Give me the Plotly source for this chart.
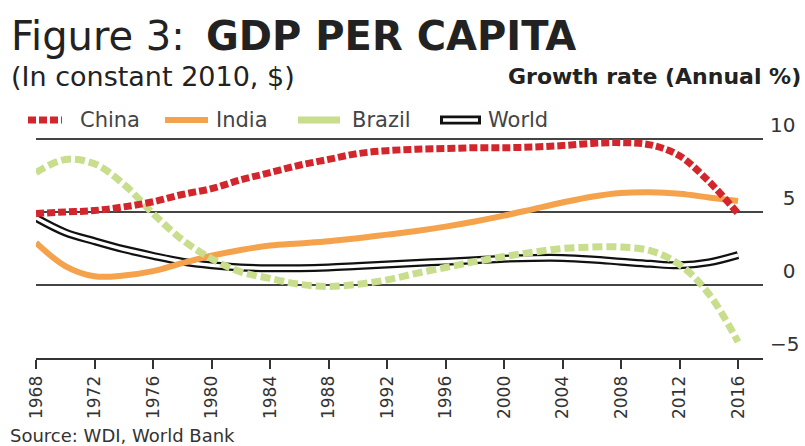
import plotly.graph_objects as go

# ---------------- data ----------------
years = list(range(1968, 2017, 2))
china = [4.9, 5.0, 5.1, 5.35, 5.7, 6.2, 6.6, 7.2, 7.7, 8.2, 8.6, 9.0, 9.2,
         9.3, 9.35, 9.4, 9.4, 9.45, 9.55, 9.7, 9.75, 9.6, 8.85, 7.1, 4.9]
india = [2.9, 1.3, 0.6, 0.65, 0.95, 1.5, 2.0, 2.4, 2.7, 2.85, 3.0, 3.2, 3.45,
         3.7, 4.0, 4.35, 4.75, 5.2, 5.65, 6.05, 6.3, 6.35, 6.25, 6.0, 5.75]
brazil = [7.7, 8.6, 8.3, 6.9, 4.9, 3.1, 1.8, 0.9, 0.45, 0.05, -0.1, 0.05, 0.35,
          0.8, 1.2, 1.6, 1.95, 2.25, 2.5, 2.6, 2.6, 2.35, 1.4, -0.6, -3.9]
world = [4.6, 3.6, 3.0, 2.45, 2.0, 1.6, 1.35, 1.2, 1.15, 1.15, 1.2, 1.3, 1.4,
         1.5, 1.6, 1.7, 1.8, 1.85, 1.85, 1.75, 1.6, 1.45, 1.35, 1.55, 2.05]
x_ticks = list(range(1968, 2017, 4))
y_ticks = [-5, 0, 5, 10]
y_ticktext = ["\u22125", "\u20070", "\u20075", "10"]
legend_names = ["China", "India", "Brazil", "World"]

# ---------------- styles ----------------
RED = "#d3262c"
ORANGE = "#f4a24c"
GREEN = "#c8de8c"
TEXT = "#222222"
GRID = "#444444"
FONT = "DejaVu Sans"

W, H = 805, 446
L, R, T, B = 36, 42, 135, 88
PW, PH = W - L - R, H - T - B
Y_UNIT = 14.6          # px per percentage point
Y_TOP = -5 + PH / Y_UNIT


def px(x):
    return (x - L) / PW


def py(y):
    return (H - B - y) / PH


fig = go.Figure()

# World: black outline with white centre
fig.add_trace(go.Scatter(x=years, y=world, mode="lines", name="World",
                         line=dict(color="#111111", width=8, shape="spline", smoothing=1),
                         showlegend=False, cliponaxis=False, hoverinfo="skip"))
fig.add_trace(go.Scatter(x=years, y=world, mode="lines", name="World",
                         line=dict(color="white", width=3.5, shape="spline", smoothing=1),
                         showlegend=False, cliponaxis=False))
fig.add_trace(go.Scatter(x=years, y=india, mode="lines", name="India",
                         line=dict(color=ORANGE, width=6, shape="spline", smoothing=1),
                         showlegend=False, cliponaxis=False))
fig.add_trace(go.Scatter(x=years, y=brazil, mode="lines", name="Brazil",
                         line=dict(color=GREEN, width=7, shape="spline", smoothing=1,
                                   dash="10px,4px"),
                         showlegend=False, cliponaxis=False))
fig.add_trace(go.Scatter(x=years, y=china, mode="lines", name="China",
                         line=dict(color=RED, width=7, shape="spline", smoothing=1,
                                   dash="8px,3px"),
                         showlegend=False, cliponaxis=False))

# ---------------- custom legend ----------------
shapes = []
annotations = []
leg_y = 120
icons = [
    (28, 62, RED, 7, "8px,3px"),
    (165, 208, ORANGE, 6, "solid"),
    (298, 340, GREEN, 7, "solid"),
]
text_x = [78, 214, 350, 486]
for (x0, x1, col, w, dash) in icons:
    shapes.append(dict(type="line", xref="paper", yref="paper",
                       x0=px(x0), x1=px(x1), y0=py(leg_y), y1=py(leg_y),
                       line=dict(color=col, width=w, dash=dash)))
# World icon (outlined)
shapes.append(dict(type="line", xref="paper", yref="paper",
                   x0=px(440), x1=px(481), y0=py(leg_y), y1=py(leg_y),
                   line=dict(color="#111111", width=9)))
shapes.append(dict(type="line", xref="paper", yref="paper",
                   x0=px(443), x1=px(478), y0=py(leg_y), y1=py(leg_y),
                   line=dict(color="white", width=3.5)))
for name, tx in zip(legend_names, text_x):
    annotations.append(dict(text=name, xref="paper", yref="paper",
                            x=px(tx), y=py(leg_y), xanchor="left", yanchor="middle",
                            showarrow=False,
                            font=dict(family=FONT, size=21, color="#444444")))

# ---------------- titles ----------------
annotations += [
    dict(text="Figure 3:", xref="paper", yref="paper", x=px(9), y=py(36),
         xanchor="left", yanchor="middle", showarrow=False,
         font=dict(family=FONT, size=40, color=TEXT)),
    dict(text="<b>GDP PER CAPITA</b>", xref="paper", yref="paper", x=px(204), y=py(36),
         xanchor="left", yanchor="middle", showarrow=False,
         font=dict(family=FONT, size=40, color=TEXT)),
    dict(text="(In constant 2010, $)", xref="paper", yref="paper", x=px(9), y=py(77),
         xanchor="left", yanchor="middle", showarrow=False,
         font=dict(family=FONT, size=27, color=TEXT)),
    dict(text="<b>Growth rate (Annual %)</b>", xref="paper", yref="paper", x=px(803), y=py(77),
         xanchor="right", yanchor="middle", showarrow=False,
         font=dict(family=FONT, size=22, color=TEXT)),
    dict(text="Source: WDI, World Bank", xref="paper", yref="paper", x=px(8), y=py(435),
         xanchor="left", yanchor="middle", showarrow=False,
         font=dict(family=FONT, size=18, color="#333333")),
]

fig.update_layout(
    width=W, height=H,
    margin=dict(l=L, r=R, t=T, b=B, pad=0),
    paper_bgcolor="white", plot_bgcolor="white",
    showlegend=False,
    shapes=shapes,
    annotations=annotations,
    xaxis=dict(range=[1968, 1968 + PW / 14.625], tickvals=x_ticks,
               ticktext=[str(v) for v in x_ticks], tickangle=-90,
               ticks="outside", ticklen=9, tickwidth=1.5, tickcolor="#333333",
               showline=True, linecolor="#333333", linewidth=2,
               showgrid=False, zeroline=False, automargin=False,
               tickfont=dict(family=FONT, size=17, color="#333333")),
    yaxis=dict(range=[-5, Y_TOP], tickvals=y_ticks, ticktext=y_ticktext, side="right",
               ticklabelposition="outside top", ticklabelstandoff=6, automargin=False,
               showgrid=True, gridcolor=GRID, gridwidth=2,
               zeroline=False, showline=False, ticks="",
               tickfont=dict(family=FONT, size=20, color="#333333")),
)

fig.write_html("out.html", post_script="document.body.style.margin='0px';",
               config={"displayModeBar": False})
